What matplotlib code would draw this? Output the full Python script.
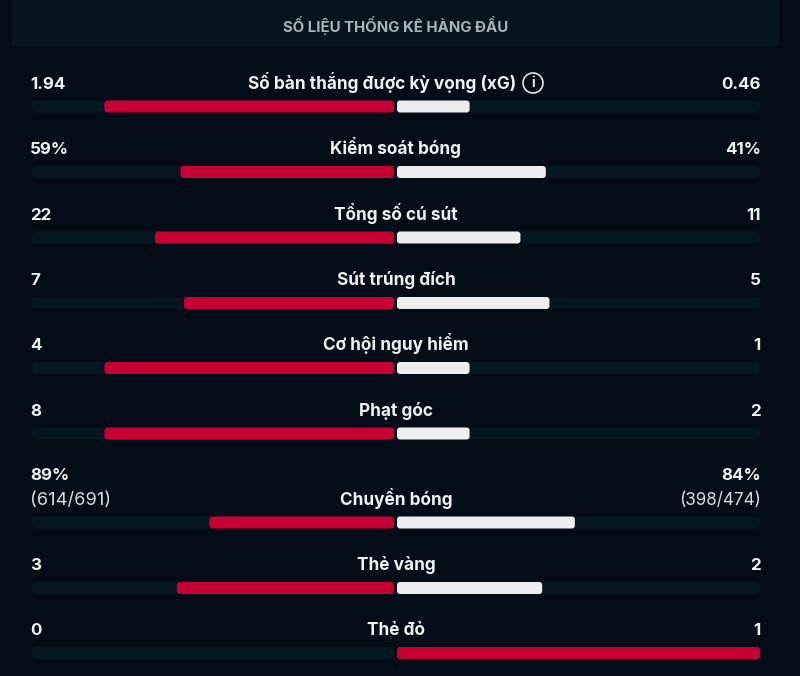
import matplotlib
matplotlib.use("Agg")
import matplotlib.pyplot as plt
from matplotlib.patches import FancyBboxPatch, Ellipse

W, H = 800, 676

title = "SỐ LIỆU THỐNG KÊ HÀNG ĐẦU"
categories = ["Số bàn thắng được kỳ vọng (xG)", "Kiểm soát bóng", "Tổng số cú sút",
              "Sút trúng đích", "Cơ hội nguy hiểm", "Phạt góc", "Chuyền bóng",
              "Thẻ vàng", "Thẻ đỏ"]
left_labels = ["1.94", "59%", "22", "7", "4", "8", "89%", "3", "0"]
right_labels = ["0.46", "41%", "11", "5", "1", "2", "84%", "2", "1"]
left_sub = {6: "(614/691)"}
right_sub = {6: "(398/474)"}
left_share = [80, 59, 66, 58, 80, 80, 51, 60, 0]
right_share = [20, 41, 34, 42, 20, 20, 49, 40, 100]

# layout (pixels)
bar_y = [106.5, 172, 237.5, 303, 368, 433.5, 522.5, 588, 653]
base_y = [89, 154, 220, 285, 350, 416, 505, 570, 635]
BAR_H = 12
BG = "#030c17"; PANEL = "#04151e"; TRACK = "#04161f"
RED = "#c60033"; WHITE = "#eeeeee"; TXT = "#f0f2f3"

plt.rcParams["font.family"] = ["Inter", "Noto Sans", "DejaVu Sans"]
fig = plt.figure(figsize=(W / 100, H / 100), dpi=100, facecolor=BG)

fig.patches.append(FancyBboxPatch((12 / W, 1 - 47 / H), 767 / W, 60 / H,
                                  boxstyle="round,pad=0,rounding_size=0.006",
                                  transform=fig.transFigure, fc=PANEL, ec="none",
                                  figure=fig))

def make_axes(x0, x1, xlim):
    ax = fig.add_axes([x0 / W, 0, (x1 - x0) / W, 1])
    ax.set_xlim(*xlim); ax.set_ylim(H, 0); ax.axis("off")
    ax.patch.set_alpha(0)
    return ax

axL = make_axes(32, 394, (100, 0))
axR = make_axes(397, 760, (0, 100))

def rbar(ax, start, width, y, color, scale, z):
    r = 3 / scale
    p = FancyBboxPatch((start, y - BAR_H / 2), width, BAR_H,
                       boxstyle=f"round,pad=0,rounding_size={r}",
                       mutation_aspect=scale, fc=color, ec="none", zorder=z)
    ax.add_patch(p)

for i, y in enumerate(bar_y):
    rbar(axL, 0, 100, y, TRACK, 3.62, 1)
    rbar(axR, 0, 100, y, TRACK, 3.63, 1)
    if left_share[i] > 0:
        rbar(axL, 0, left_share[i], y, RED, 3.62, 2)
    rbar(axR, 0, right_share[i], y, RED if i == 8 else WHITE, 3.63, 2)

def T(x, y, s, ha="center", size=12.4, weight="bold", color=TXT, va="baseline"):
    return fig.text(x / W, 1 - y / H, s, ha=ha, va=va, fontsize=size,
                    fontweight=weight, color=color)

T(396, 32, title, size=10.8, color="#aab4ba")
for i, y in enumerate(base_y):
    cx = 382 if i == 0 else 396
    T(cx, y, categories[i])
    ty = y - 25 if i in left_sub else y
    T(30, ty, left_labels[i], ha="left", size=12.2)
    T(761, ty, right_labels[i], ha="right", size=12.2)
    if i in left_sub:
        T(30, y, left_sub[i], ha="left", weight="normal", size=13.2, color="#d8dcdf")
        T(761, y, right_sub[i], ha="right", weight="normal", size=12.3, color="#d8dcdf")

fig.patches.append(Ellipse((533 / W, 1 - 83 / H), 20 / W, 20 / H, transform=fig.transFigure,
                           fc="none", ec="#dfe3e5", lw=1.2, figure=fig))
T(533, 83, "i", size=10, weight="bold", color="#dfe3e5", va="center")

fig.savefig("out.png", dpi=100, facecolor=BG)
